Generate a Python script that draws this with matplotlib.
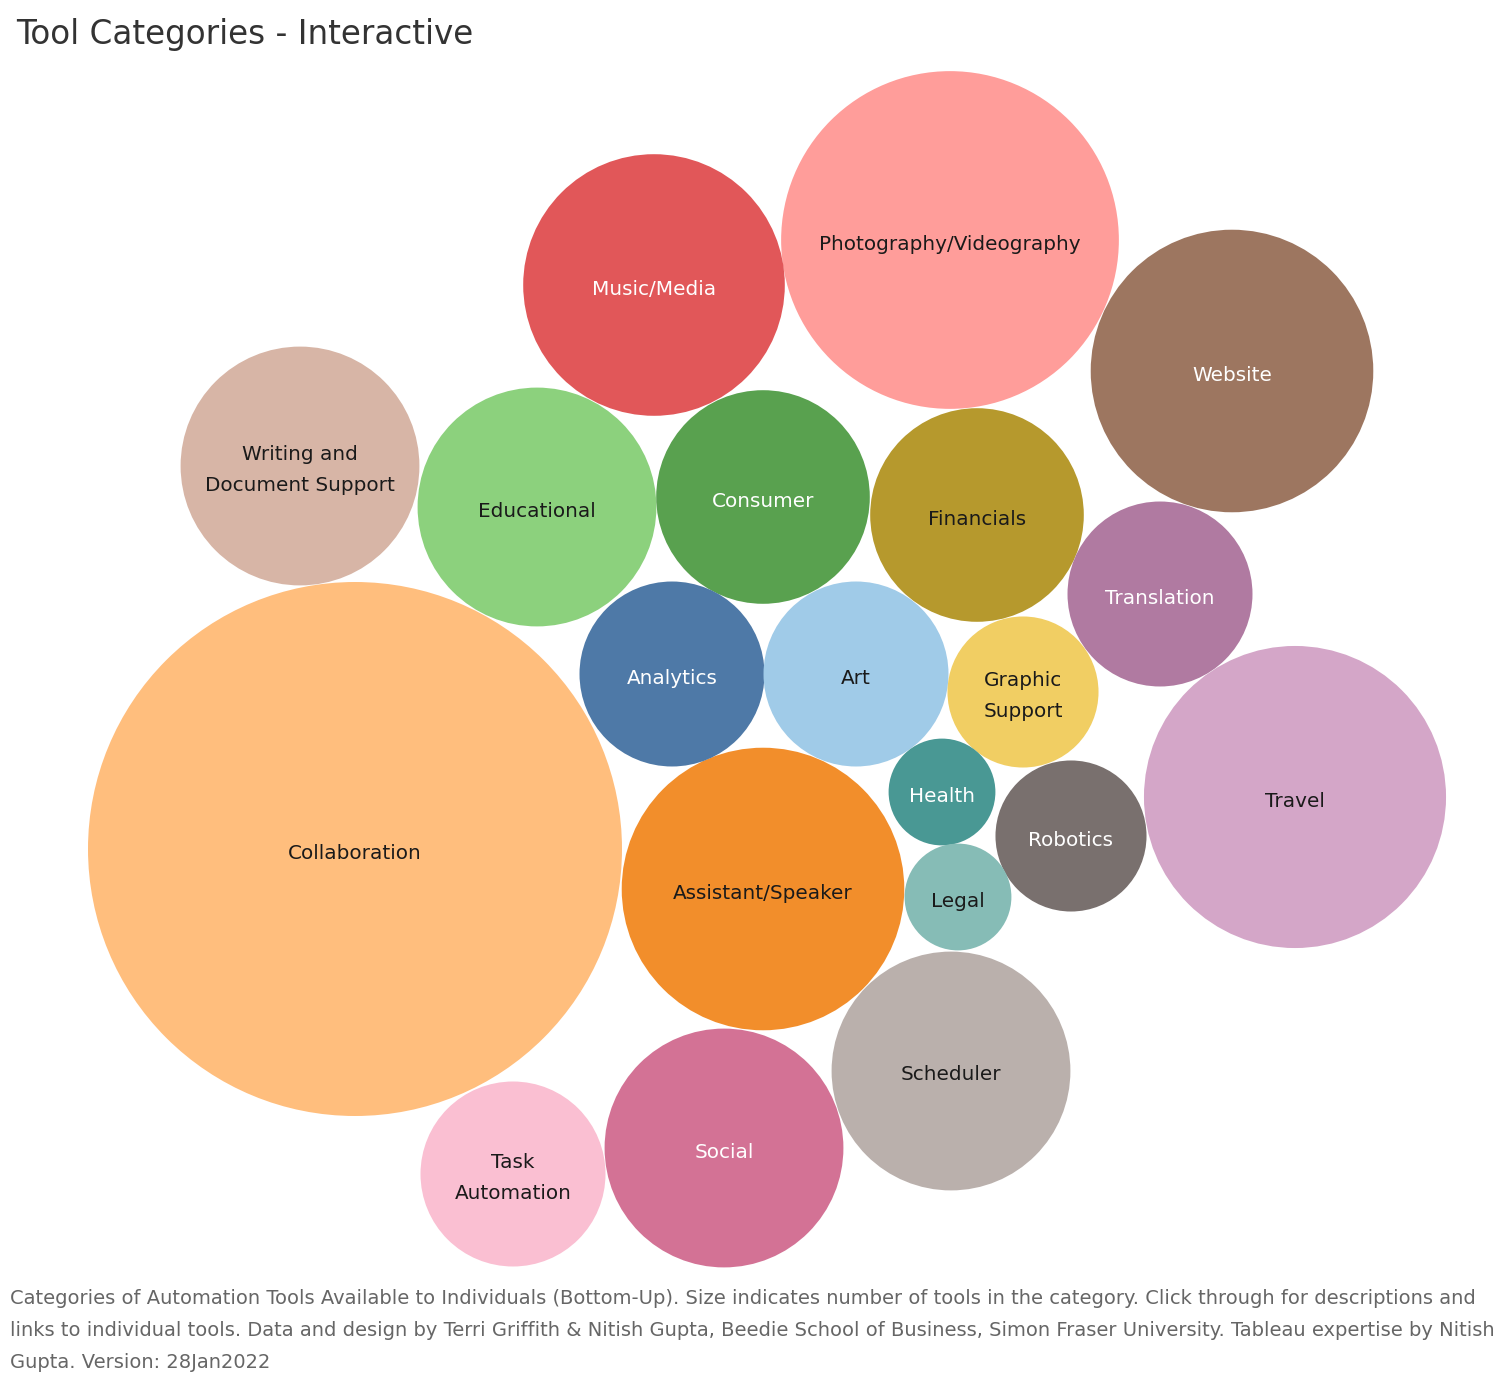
import numpy as np
import matplotlib
matplotlib.use("Agg")
import matplotlib.pyplot as plt
from matplotlib.patches import Circle

# data: number of tools per category
categories = ["Collaboration", "Photography/Videography", "Travel", "Website",
              "Assistant/Speaker", "Music/Media", "Writing and\nDocument Support",
              "Educational", "Scheduler", "Social", "Consumer", "Financials",
              "Analytics", "Art", "Task\nAutomation", "Translation",
              "Graphic\nSupport", "Robotics", "Health", "Legal"]
counts = [25, 10, 8, 7, 7, 6, 5, 5, 5, 5, 4, 4, 3, 3, 3, 3, 2, 2, 1, 1]
colors = ["#FFBE7D", "#FF9D9A", "#D4A6C8", "#9D7660", "#F28E2B", "#E15759",
          "#D7B5A6", "#8CD17D", "#BAB0AC", "#D37295", "#59A14F", "#B6992D",
          "#4E79A7", "#A0CBE8", "#FABFD2", "#B07AA1", "#F1CE63", "#79706E",
          "#499894", "#86BCB6"]
white_text = {"Website", "Music/Media", "Social", "Consumer", "Analytics",
              "Translation", "Robotics", "Health"}

# packed layout (bubble centres, canvas units)
layout_x = [355, 950, 1295, 1232, 763, 654, 300, 537, 951, 724, 763, 977,
            672, 856, 513, 1160, 1023, 1071, 942, 958]
layout_y = [849, 240, 797, 371, 889, 285, 466, 507, 1071, 1148, 497, 515,
            674, 674, 1174, 594, 692, 836, 792, 897]

fig = plt.figure(figsize=(15, 13.75), dpi=100)
ax = fig.add_axes([0, 0, 1, 1])
ax.set_xlim(0, 1500)
ax.set_ylim(1375, 0)
ax.set_aspect("equal")
ax.axis("off")

scale = 53.4
for name, n, c, x, y in zip(categories, counts, colors, layout_x, layout_y):
    r = scale * np.sqrt(n)
    ax.add_patch(Circle((x, y), r, facecolor=c, edgecolor="none"))
    ax.text(x, y + 4, name, ha="center", va="center", fontsize=14.4,
            color="white" if name in white_text else "#1a1a1a",
            linespacing=1.85)

ax.text(16, 34, "Tool Categories - Interactive", fontsize=23.5, color="#333333",
        ha="left", va="center")

caption = ("Categories of Automation Tools Available to Individuals (Bottom-Up). Size indicates number of tools in the category. Click through for descriptions and\n"
           "links to individual tools. Data and design by Terri Griffith & Nitish Gupta, Beedie School of Business, Simon Fraser University. Tableau expertise by Nitish\n"
           "Gupta. Version: 28Jan2022")
ax.text(10, 1289, caption, fontsize=14, color="#666666", ha="left", va="top",
        linespacing=1.88)

fig.savefig("out.png", dpi=100)
